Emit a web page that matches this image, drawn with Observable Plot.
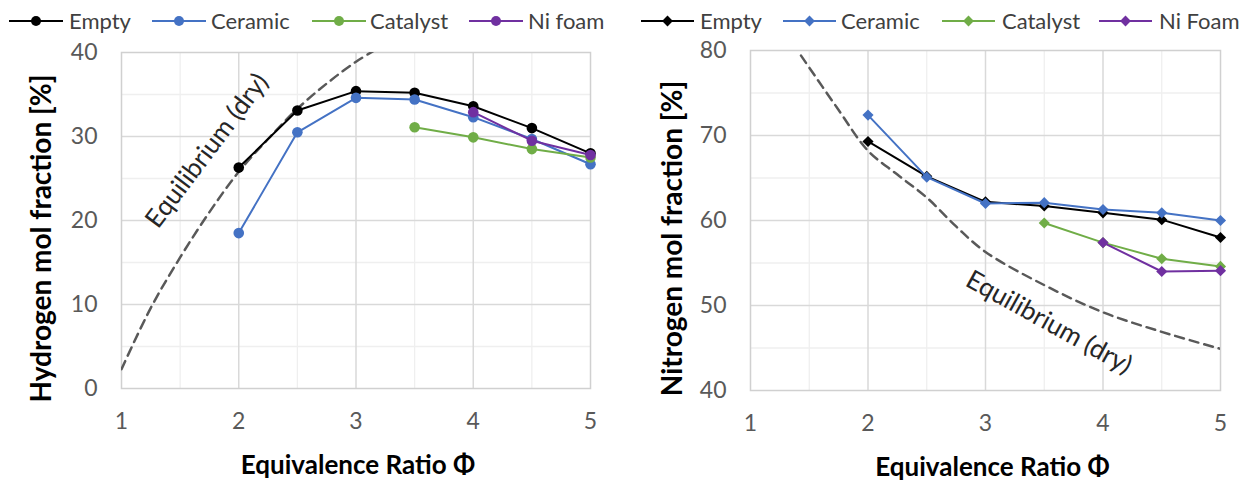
<!DOCTYPE html>
<html><head><meta charset="utf-8">
<script src="https://cdn.jsdelivr.net/npm/d3@7"></script>
<script src="https://cdn.jsdelivr.net/npm/@observablehq/plot@0.6"></script>
<style>
body{margin:0;background:#fff;}
#wrap{position:relative;width:1248px;height:482px;overflow:hidden;background:#fff;}
.legend{position:absolute;top:0;left:0;width:1248px;height:40px;}
.panel{position:absolute;top:40px;}
</style></head><body><div id="wrap"></div>
<script>
// ---- data ----
const phi = [2, 2.5, 3, 3.5, 4, 4.5, 5];
const seriesLeft = ["Empty", "Ceramic", "Catalyst", "Ni foam"];
const seriesRight = ["Empty", "Ceramic", "Catalyst", "Ni Foam"];
const seriesColors = ["#000000", "#4472C4", "#70AD47", "#7030A0"];

const h2Empty    = [26.3, 33.1, 35.4, 35.2, 33.6, 31.0, 28.0];
const h2Ceramic  = [18.5, 30.5, 34.6, 34.4, 32.3, 29.7, 26.7];
const h2Catalyst = [null, null, null, 31.1, 29.9, 28.5, 27.5];
const h2NiFoam   = [null, null, null, null, 32.9, 29.5, 27.8];

const n2Empty    = [69.3, 65.2, 62.2, 61.7, 60.9, 60.1, 58.0];
const n2Ceramic  = [72.4, 65.1, 62.0, 62.1, 61.3, 60.9, 60.0];
const n2Catalyst = [null, null, null, 59.7, 57.4, 55.5, 54.6];
const n2NiFoam   = [null, null, null, null, 57.4, 54.0, 54.1];

const eqH2Phi = [1, 1.25, 1.5, 1.75, 2, 2.25, 2.5, 2.75, 3, 3.25];
const eqH2    = [2.3, 9.6, 15.6, 21.0, 25.8, 29.7, 33.3, 36.3, 38.9, 41.0];
const eqN2Phi = [1.43, 1.75, 2, 2.25, 2.5, 2.75, 3, 3.5, 4, 4.5, 5];
const eqN2    = [79.4, 73.0, 68.2, 65.4, 62.7, 59.3, 56.3, 52.4, 49.2, 46.9, 44.9];

const xTicks = [1, 2, 3, 4, 5];
const xMinor = [1.5, 2.5, 3.5, 4.5];
const xMajor = [2, 3, 4];
const yTicksLeft = [0, 10, 20, 30, 40];
const yMinorLeft = [5, 15, 25, 35];
const yMajorLeft = [10, 20, 30];
const yTicksRight = [40, 50, 60, 70, 80];
const yMinorRight = [45, 55, 65, 75];
const yMajorRight = [50, 60, 70];

const eqLabel = "Equilibrium (dry)";
const xTitle = "Equivalence Ratio Φ";
const yTitleLeft = "Hydrogen mol fraction [%]";
const yTitleRight = "Nitrogen mol fraction [%]";

// ---- helpers ----
function rows(names, arrays) {
  return names.map((s, i) => phi.map((x, j) => ({series: s, x, y: arrays[i][j]})).filter(d => d.y != null));
}

function panel(o) {
  const marks = [
    Plot.ruleX(xMinor, {stroke: "#efefef", strokeWidth: 1.3}),
    Plot.ruleY(o.yMinor, {stroke: "#efefef", strokeWidth: 1.3}),
    Plot.ruleX(xMajor, {stroke: "#d9d9d9", strokeWidth: 1.5}),
    Plot.ruleY(o.yMajor, {stroke: "#d9d9d9", strokeWidth: 1.5}),
    Plot.frame({stroke: "#d0d0d0", strokeWidth: 1.5}),
    Plot.line(o.eqX.map((x, i) => ({x, y: o.eqY[i]})), {x: "x", y: "y", stroke: "#595959", strokeWidth: 2.5, strokeDasharray: "9,6", curve: "catmull-rom", clip: true}),
    Plot.text([eqLabel], {x: o.lab.x, y: o.lab.y, rotate: o.lab.r, text: d => d, fontSize: 26, fill: "#262626", fontFamily: "Lato", textAnchor: "middle", lineAnchor: "middle"})
  ];
  o.data.forEach((r, i) => {
    marks.push(Plot.line(r, {x: "x", y: "y", stroke: seriesColors[i], strokeWidth: 2}));
    marks.push(Plot.dot(r, {x: "x", y: "y", fill: seriesColors[i], r: o.r, symbol: o.symbol, stroke: "none"}));
  });
  marks.push(
    Plot.axisX({ticks: xTicks, tickSize: 0, tickPadding: 24, fontSize: 23, label: null, tickFormat: d3.format("d")}),
    Plot.axisY({ticks: o.yTicks, tickSize: 0, tickPadding: 24, fontSize: 23, label: null, tickFormat: d3.format("d")}),
    Plot.text([o.yTitle], {frameAnchor: "left", text: d => d, rotate: -90, dx: o.yTitleDx, dy: 18, fontSize: 28, fontWeight: "bold", fill: "#000", textAnchor: "middle", lineAnchor: "middle"}),
    Plot.text([xTitle], {frameAnchor: "bottom", text: d => d, dy: 77, dx: o.xTitleDx, fontSize: 26, fontWeight: "bold", fill: "#000", textAnchor: "middle", lineAnchor: "middle"})
  );
  return Plot.plot({
    width: o.width, height: 442,
    marginLeft: o.ml, marginRight: o.mr, marginTop: o.mt, marginBottom: o.mb,
    x: {domain: [1, 5]},
    y: {domain: o.yDomain},
    style: {fontFamily: "Lato", fontSize: "23px", color: "#595959", background: "transparent", overflow: "visible"},
    marks
  });
}

const wrap = document.getElementById("wrap");

// legends
const legSvg = d3.select(wrap).append("svg").attr("class", "legend").attr("width", 1248).attr("height", 40);
function drawLegend(names, lineStarts, lineW, textStarts, symbol) {
  names.forEach((n, i) => {
    const g = legSvg.append("g");
    g.append("line").attr("x1", lineStarts[i]).attr("x2", lineStarts[i] + lineW).attr("y1", 21).attr("y2", 21)
      .attr("stroke", seriesColors[i]).attr("stroke-width", 2);
    const cx = lineStarts[i] + lineW / 2;
    g.append("path").attr("transform", `translate(${cx},21)`)
      .attr("d", d3.symbol(symbol === "diamond" ? d3.symbolDiamond2 : d3.symbolCircle, symbol === "diamond" ? 75 : 78)())
      .attr("fill", seriesColors[i]);
    g.append("text").attr("x", textStarts[i]).attr("y", 28.5).text(n)
      .attr("font-family", "Lato").attr("font-size", 22).attr("fill", "#404040");
  });
}
drawLegend(seriesLeft, [9, 152, 312, 469], 54, [69, 211, 370, 528], "circle");
drawLegend(seriesRight, [641, 783, 942, 1099], 53, [700, 841, 1002, 1159], "diamond");

const left = panel({
  width: 620, ml: 121, mr: 30, mt: 12, mb: 94,
  yDomain: [0, 40], yTicks: yTicksLeft, yMinor: yMinorLeft, yMajor: yMajorLeft,
  eqX: eqH2Phi, eqY: eqH2, lab: {x: 1.73, y: 28.3, r: -53},
  data: rows(seriesLeft, [h2Empty, h2Ceramic, h2Catalyst, h2NiFoam]),
  symbol: "circle", r: 5.3, yTitle: yTitleLeft, yTitleDx: -79, xTitleDx: 2
});
left.classList.add("panel");
left.style.left = "0px";
wrap.appendChild(left);

const right = panel({
  width: 628, ml: 130, mr: 28, mt: 10, mb: 92,
  yDomain: [40, 80], yTicks: yTicksRight, yMinor: yMinorRight, yMajor: yMajorRight,
  eqX: eqN2Phi, eqY: eqN2, lab: {x: 3.54, y: 48.0, r: 29},
  data: rows(seriesRight, [n2Empty, n2Ceramic, n2Catalyst, n2NiFoam]),
  symbol: "diamond2", r: 5, yTitle: yTitleRight, yTitleDx: -77, xTitleDx: 7
});
right.classList.add("panel");
right.style.left = "620px";
wrap.appendChild(right);
</script></body></html>
